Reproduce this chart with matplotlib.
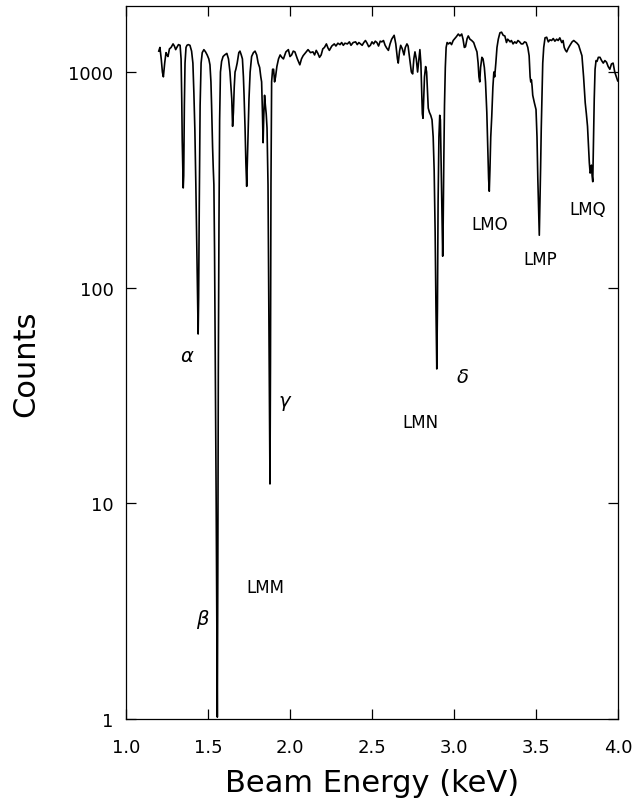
import matplotlib
matplotlib.use("Agg")
import matplotlib.pyplot as plt

# spectrum
energy = [
    1.200, 1.207, 1.215, 1.222, 1.228, 1.236, 1.244, 1.250, 1.256, 1.265,
    1.275, 1.287, 1.295, 1.303, 1.310, 1.320, 1.330, 1.336, 1.340, 1.343,
    1.346, 1.349, 1.352, 1.356, 1.360, 1.366, 1.372, 1.380, 1.390, 1.400,
    1.408, 1.414, 1.420, 1.426, 1.432, 1.437, 1.440, 1.443, 1.447, 1.452,
    1.458, 1.465, 1.475, 1.485, 1.495, 1.505, 1.512, 1.518, 1.522, 1.528,
    1.532, 1.536, 1.540, 1.545, 1.550, 1.555, 1.557, 1.560, 1.563, 1.567,
    1.571, 1.576, 1.583, 1.592, 1.602, 1.615, 1.625, 1.634, 1.640, 1.645,
    1.650, 1.655, 1.660, 1.665, 1.670, 1.678, 1.688, 1.695, 1.703, 1.710,
    1.716, 1.720, 1.726, 1.731, 1.736, 1.740, 1.744, 1.750, 1.757, 1.766,
    1.777, 1.787, 1.797, 1.806, 1.815, 1.822, 1.827, 1.832, 1.836, 1.840,
    1.845, 1.850, 1.855, 1.860, 1.866, 1.871, 1.875, 1.878, 1.881, 1.884,
    1.888, 1.894, 1.900, 1.906, 1.912, 1.920, 1.930, 1.940, 1.950, 1.960,
    1.975, 1.990, 2.000, 2.010, 2.020, 2.030, 2.045, 2.060, 2.070, 2.080,
    2.095, 2.110, 2.125, 2.140, 2.150, 2.160, 2.170, 2.180, 2.190, 2.200,
    2.210, 2.222, 2.232, 2.240, 2.255, 2.270, 2.280, 2.292, 2.305, 2.315,
    2.325, 2.335, 2.350, 2.362, 2.372, 2.385, 2.400, 2.410, 2.420, 2.430,
    2.440, 2.450, 2.460, 2.470, 2.480, 2.490, 2.500, 2.510, 2.520, 2.530,
    2.540, 2.550, 2.560, 2.570, 2.580, 2.590, 2.600, 2.610, 2.620, 2.635,
    2.645, 2.655, 2.660, 2.668, 2.675, 2.685, 2.695, 2.703, 2.713, 2.720,
    2.730, 2.740, 2.748, 2.755, 2.762, 2.770, 2.778, 2.786, 2.792, 2.798,
    2.803, 2.807, 2.811, 2.815, 2.820, 2.827, 2.833, 2.838, 2.843, 2.850,
    2.858, 2.866, 2.873, 2.879, 2.885, 2.890, 2.895, 2.899, 2.903, 2.908,
    2.913, 2.917, 2.921, 2.925, 2.929, 2.931, 2.934, 2.938, 2.942, 2.947,
    2.952, 2.958, 2.966, 2.976, 2.985, 2.995, 3.005, 3.015, 3.026, 3.036,
    3.047, 3.055, 3.063, 3.070, 3.080, 3.087, 3.097, 3.108, 3.120, 3.130,
    3.140, 3.147, 3.152, 3.157, 3.162, 3.170, 3.177, 3.185, 3.192, 3.200,
    3.206, 3.211, 3.215, 3.219, 3.224, 3.230, 3.237, 3.243, 3.248, 3.255,
    3.262, 3.270, 3.280, 3.290, 3.300, 3.310, 3.320, 3.327, 3.335, 3.342,
    3.350, 3.360, 3.370, 3.380, 3.390, 3.400, 3.410, 3.420, 3.430, 3.440,
    3.450, 3.458, 3.464, 3.468, 3.472, 3.476, 3.480, 3.490, 3.500, 3.506,
    3.511, 3.516, 3.520, 3.524, 3.528, 3.532, 3.536, 3.541, 3.547, 3.555,
    3.565, 3.575, 3.585, 3.595, 3.605, 3.615, 3.626, 3.635, 3.645, 3.657,
    3.665, 3.672, 3.680, 3.687, 3.697, 3.707, 3.720, 3.730, 3.740, 3.750,
    3.760, 3.770, 3.780, 3.790, 3.800, 3.807, 3.814, 3.820, 3.825, 3.830,
    3.834, 3.838, 3.842, 3.846, 3.850, 3.855, 3.860, 3.866, 3.872, 3.880,
    3.890, 3.900, 3.910, 3.920, 3.930, 3.940, 3.950, 3.960, 3.970, 3.980,
    3.990, 3.998,
]
counts = [
    1250, 1300, 1150, 1000, 950, 1100, 1230, 1200, 1180, 1280,
    1300, 1350, 1320, 1270, 1300, 1340, 1330, 1150, 750, 480,
    380, 290, 330, 700, 1100, 1300, 1330, 1340, 1330, 1250,
    1100, 800, 540, 300, 150, 80, 61, 90, 250, 700,
    1100, 1230, 1270, 1240, 1200, 1150, 1080, 900, 700, 450,
    360, 300, 150, 40, 10, 2, 1.02, 5, 40, 200,
    600, 1000, 1120, 1180, 1200, 1220, 1150, 1000, 850, 750,
    560, 650, 850, 1000, 1030, 1100, 1230, 1250, 1200, 1150,
    950, 780, 550, 380, 295, 380, 500, 750, 1000, 1180,
    1230, 1250, 1200, 1100, 1050, 950, 900, 650, 470, 620,
    780, 700, 640, 550, 300, 80, 25, 12.3, 45, 300,
    900, 1030, 1030, 900, 950, 1060, 1150, 1200, 1170, 1150,
    1240, 1270, 1180, 1200, 1250, 1240, 1150, 1080, 1150, 1190,
    1230, 1270, 1230, 1240, 1200, 1260, 1220, 1170, 1200, 1280,
    1300, 1350, 1290, 1260, 1320, 1350, 1320, 1360, 1340, 1370,
    1330, 1360, 1350, 1380, 1330, 1370, 1380, 1340, 1370, 1350,
    1330, 1370, 1400, 1360, 1310, 1330, 1380, 1350, 1390, 1370,
    1320, 1390, 1380, 1400, 1330, 1290, 1260, 1350, 1420, 1480,
    1350, 1150, 1100, 1250, 1330, 1280, 1200, 1300, 1350, 1320,
    1150, 1000, 980, 1150, 1240, 1150, 1000, 1150, 1270, 1100,
    800, 640, 610, 750, 950, 1060, 1000, 820, 680, 650,
    630, 600, 500, 350, 180, 80, 42, 80, 250, 500,
    630, 600, 400, 250, 170, 140, 200, 400, 700, 1050,
    1300, 1370, 1350, 1370, 1340, 1400, 1430, 1460, 1500, 1470,
    1500, 1420, 1300, 1310, 1430, 1470, 1420, 1400, 1370, 1300,
    1240, 1100, 950, 900, 1050, 1170, 1150, 1050, 900, 650,
    450, 320, 280, 350, 500, 620, 850, 1000, 950, 1100,
    1300, 1420, 1520, 1530, 1480, 1470, 1370, 1420, 1400, 1380,
    1400, 1350, 1380, 1360, 1400, 1380, 1350, 1350, 1380, 1370,
    1300, 1190, 950, 900, 920, 860, 780, 720, 670, 500,
    320, 230, 175, 250, 360, 550, 750, 1100, 1300, 1440,
    1450, 1380, 1410, 1400, 1430, 1390, 1420, 1400, 1440, 1370,
    1400, 1300, 1260, 1240, 1290, 1330, 1380, 1400, 1380, 1360,
    1330, 1260, 1190, 950, 720, 640, 560, 450, 380, 340,
    345, 370, 330, 310, 460, 750, 1030, 1130, 1120, 1170,
    1170, 1130, 1100, 1130, 1110, 1060, 1030, 1090, 1100, 1000,
    950, 910,
]

# line labels
label_text = [r"$\alpha$", r"$\beta$", r"$\gamma$", r"$\delta$",
              "LMM", "LMN", "LMO", "LMP", "LMQ"]
label_x = [1.371, 1.468, 1.973, 3.049, 1.848, 2.793, 3.220, 3.524, 3.817]
label_y = [48.3, 2.91, 29.5, 38.9, 4.09, 23.8, 197, 136, 231]

xticks = [1.0, 1.5, 2.0, 2.5, 3.0, 3.5, 4.0]
yticks = [1, 10, 100, 1000]

fig = plt.figure(figsize=(6.34, 8.03), dpi=100)
ax = fig.add_axes([0.1987, 0.1034, 0.7761, 0.8879])

ax.plot(energy, counts, color="black", lw=1.2)
ax.set_yscale("log")
ax.set_xlim(1.0, 4.0)
ax.set_ylim(1, 2024)

ax.set_xticks(xticks)
ax.set_xticklabels(["%.1f" % v for v in xticks])
ax.set_yticks(yticks)
ax.set_yticklabels([str(v) for v in yticks])
ax.minorticks_off()
ax.tick_params(axis="both", which="major", direction="in", length=7, width=0.9,
               top=True, right=True, labelsize=13)
ax.tick_params(axis="x", pad=14)
ax.tick_params(axis="y", pad=9)
for s in ax.spines.values():
    s.set_linewidth(0.9)

for t, x, y in zip(label_text, label_x, label_y):
    fs = 14 if t.startswith("$") else 12
    ax.text(x, y, t, ha="center", va="center", fontsize=fs)

ax.set_xlabel("Beam Energy (keV)", fontsize=22, labelpad=8)
ax.set_ylabel("Counts", fontsize=22, labelpad=20)

fig.savefig("out.png", dpi=100)
